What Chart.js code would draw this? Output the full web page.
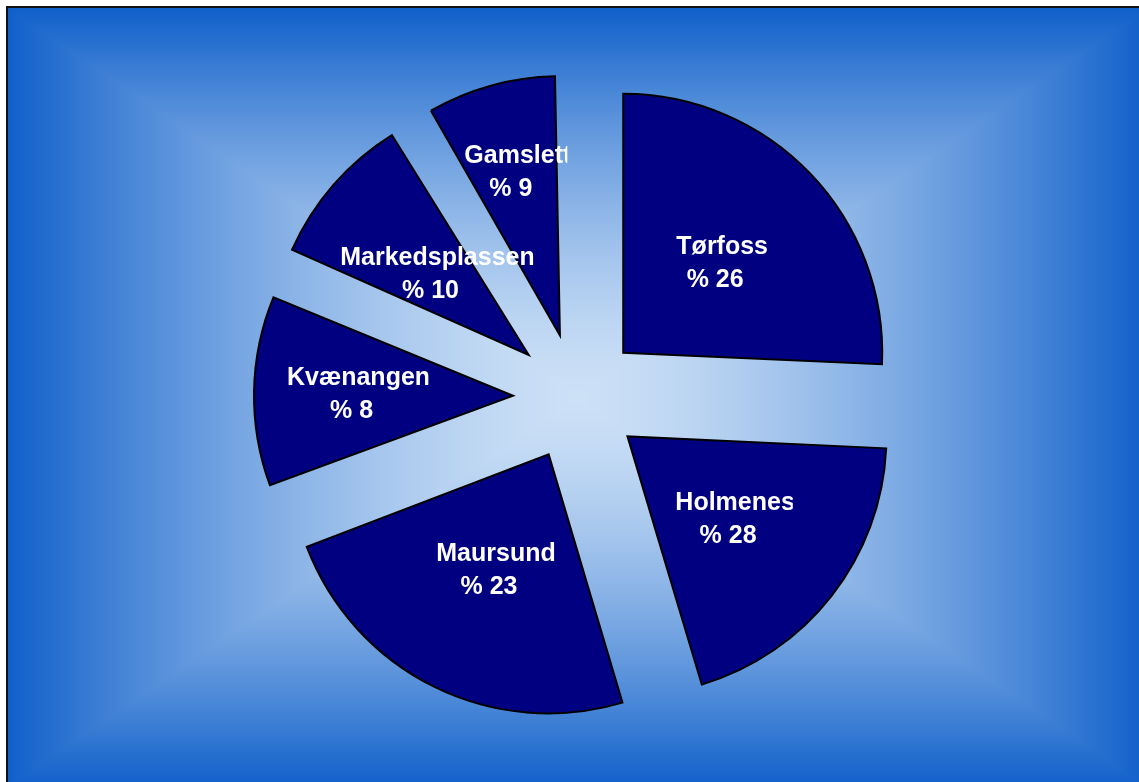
<!DOCTYPE html>
<html>
<head>
<meta charset="utf-8">
<title>Fordeling</title>
<script src="https://cdn.jsdelivr.net/npm/chart.js@4.4.1/dist/chart.umd.min.js"></script>
<style>
  html, body { margin: 0; padding: 0; background: #fff; }
  #wrap { width: 1139px; height: 782px; }
</style>
</head>
<body>
<div id="wrap"><canvas id="pie" width="1139" height="782"></canvas></div>
<script>
// slice sizes
const places = ["Tørfoss", "Holmenes", "Maursund", "Kvænangen", "Markedsplassen", "Gamslett"];
const shares = [25.7, 19.7, 23.8, 12.2, 10.0, 8.6];
// percentages as printed on the labels
const printedPct = [26, 28, 23, 8, 10, 9];

const RADIUS = 259;
const EXPLODE = 256;          // arc offset (chart.js moves the slice by offset/4)
const labelDist = [0.51, 0.51, 0.49, 0.61, 0.485, 0.66];
const labelCut = [0, 2, 0, 1.5, 1.5, 4];   // label text is clipped a little on the right

// rectangular "from centre" gradient, built once pixel by pixel
let backdropImg = null;
function buildBackdrop(w, h) {
  const L = 8, T = 8, R = 1146, B = 786;
  const cx = 577, cy = 397;
  const edge = [16, 96, 202], mid = [204, 224, 246];
  const c = document.createElement("canvas");
  c.width = w; c.height = h;
  const g = c.getContext("2d");
  const img = g.createImageData(w, h);
  for (let y = 0; y < h; y++) {
    for (let x = 0; x < w; x++) {
      const k = (y * w + x) * 4;
      if (x < L || y < T) {
        img.data[k] = img.data[k + 1] = img.data[k + 2] = 255;
      } else {
        const s = Math.min(1, Math.max(Math.abs(x - cx) / (R - cx), Math.abs(y - cy) / (B - cy)));
        const t = Math.pow(s, 1.5);
        for (let j = 0; j < 3; j++) img.data[k + j] = Math.round(mid[j] + (edge[j] - mid[j]) * t);
      }
      img.data[k + 3] = 255;
    }
  }
  g.putImageData(img, 0, 0);
  g.strokeStyle = "#111";
  g.lineWidth = 2;
  g.beginPath();
  g.moveTo(7, h);
  g.lineTo(7, 7);
  g.lineTo(w, 7);
  g.stroke();
  return c;
}

const backdrop = {
  id: "backdrop",
  beforeDraw(chart) {
    if (!backdropImg) backdropImg = buildBackdrop(chart.width, chart.height);
    chart.ctx.drawImage(backdropImg, 0, 0);
  }
};

// keep every exploded slice at the same radius
const evenRadius = {
  id: "evenRadius",
  beforeDatasetsDraw(chart) {
    const meta = chart.getDatasetMeta(0);
    meta.data.forEach((arc) => {
      const circ = arc.endAngle - arc.startAngle;
      const fix = 1 - Math.sin(Math.min(Math.PI, circ));
      arc.outerRadius = RADIUS - (EXPLODE / 4) * fix;
    });
  }
};

const sliceLabels = {
  id: "sliceLabels",
  afterDatasetsDraw(chart) {
    const ctx = chart.ctx;
    const meta = chart.getDatasetMeta(0);
    ctx.save();
    ctx.font = "bold 25px 'Liberation Sans', Arial, sans-serif";
    ctx.fillStyle = "#fff";
    ctx.textAlign = "center";
    ctx.textBaseline = "alphabetic";
    meta.data.forEach((arc, i) => {
      const a = (arc.startAngle + arc.endAngle) / 2;
      const d = EXPLODE / 4 + labelDist[i] * RADIUS;
      const x = arc.x + Math.cos(a) * d;
      const y = arc.y + Math.sin(a) * d;
      const line1 = places[i];
      const line2 = "% " + printedPct[i];
      const w1 = ctx.measureText(line1).width;
      ctx.save();
      ctx.beginPath();
      ctx.rect(x + 3.5 - w1 / 2 - 2, y - 40, w1 + 2 - labelCut[i], 80);
      ctx.clip();
      ctx.fillText(line1, x + 3.5, y - 7.5);
      ctx.restore();
      ctx.fillText(line2, x - 3.5, y + 25.5);
    });
    ctx.restore();
  }
};

new Chart(document.getElementById("pie"), {
  type: "pie",
  data: {
    labels: places,
    datasets: [{
      data: shares,
      backgroundColor: "#000080",
      borderColor: "#000",
      borderWidth: 2,
      borderJoinStyle: "miter",
      offset: EXPLODE,
      hoverOffset: EXPLODE
    }]
  },
  options: {
    responsive: false,
    animation: false,
    events: [],
    radius: RADIUS,
    layout: { padding: { left: 15, top: 12 } },
    plugins: {
      legend: { display: false },
      tooltip: { enabled: false }
    }
  },
  plugins: [backdrop, evenRadius, sliceLabels]
});
</script>
</body>
</html>
